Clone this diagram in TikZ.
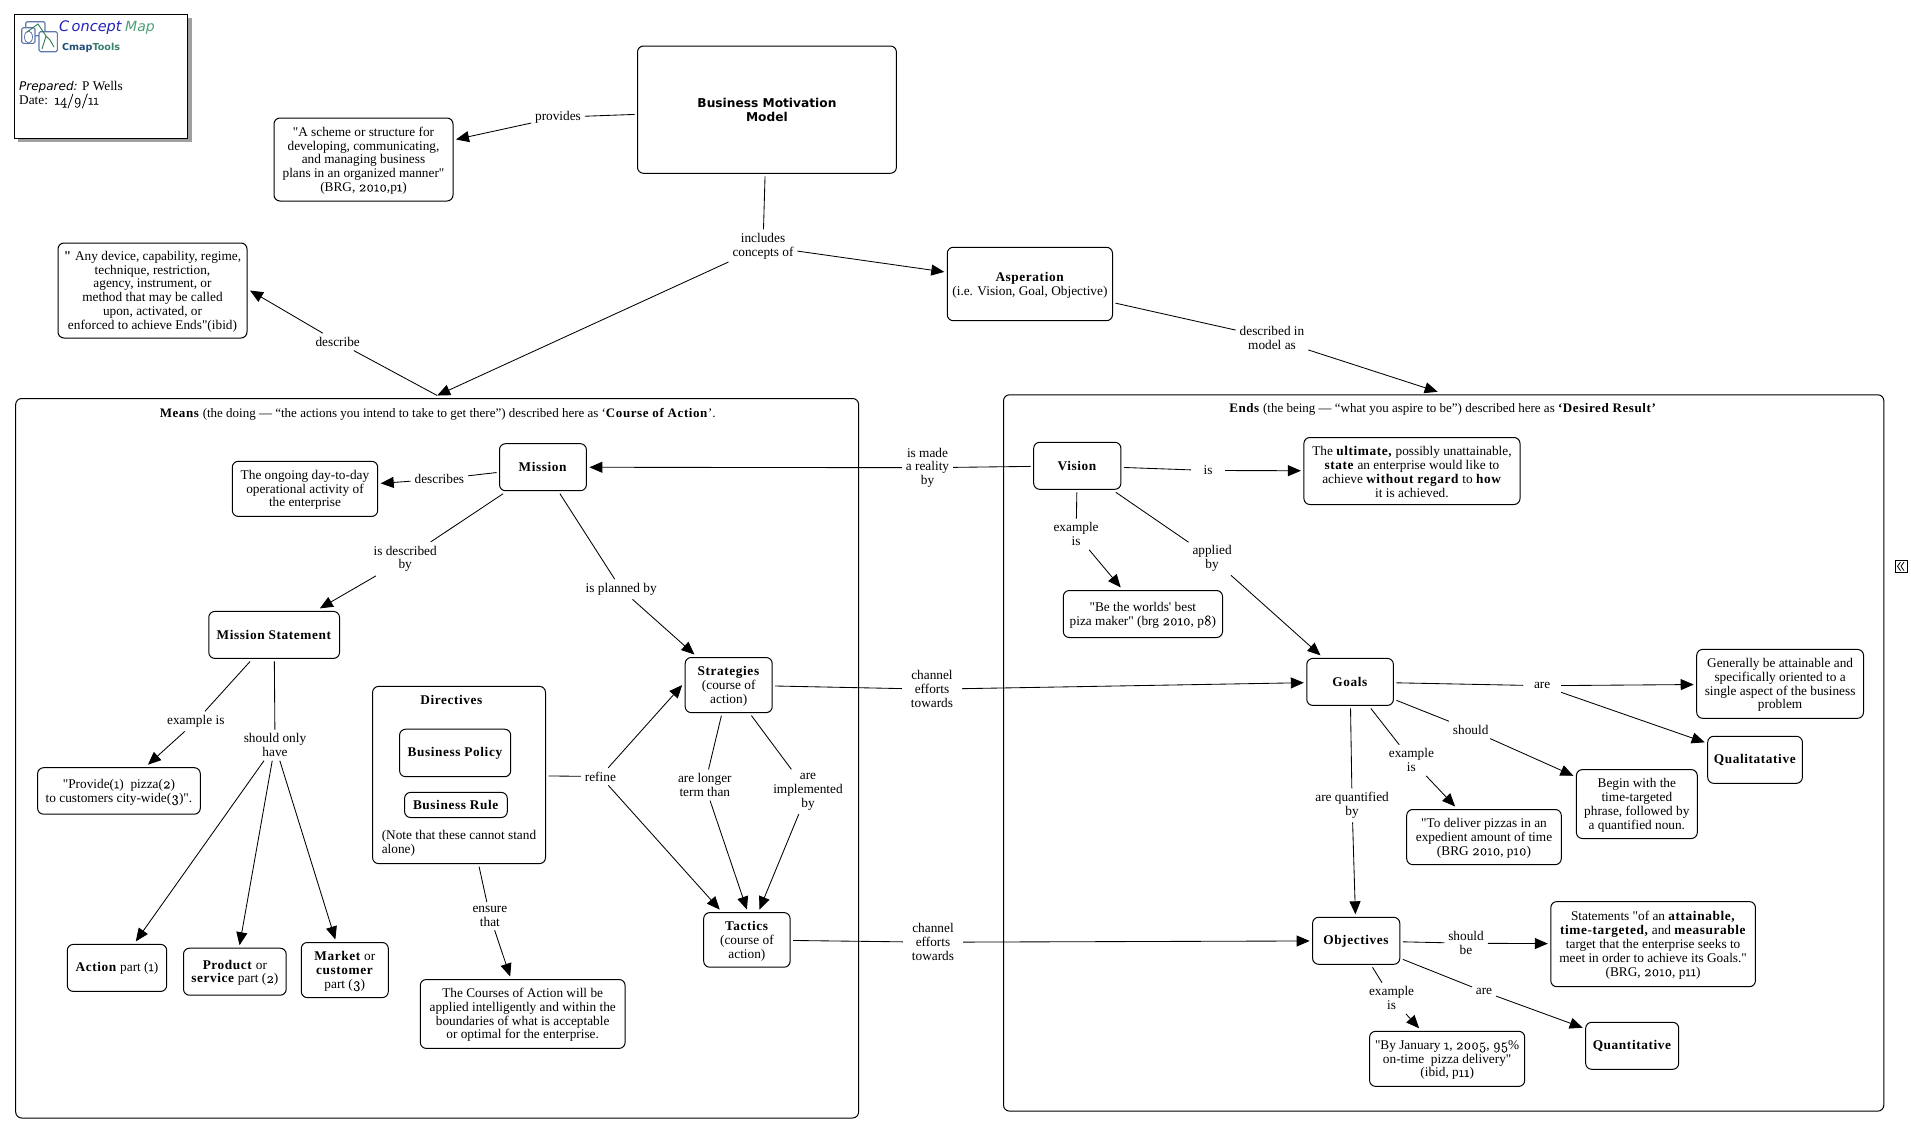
\documentclass[tikz,border=0pt]{standalone}
\usepackage{fontspec}
\usetikzlibrary{arrows.meta}
\setmainfont[Ligatures=TeXOff,BoldFeatures={LetterSpace=4.5}]{Liberation Serif}
\newfontfamily\dejasans{DejaVu Sans}
\newfontfamily\osf[Numbers=OldStyle,Scale=1.1,FakeBold=0.4]{Latin Modern Roman}
\newcommand\os[1]{{\osf #1}}
\newcommand\bmmf[1]{{\dejasans\bfseries\fontsize{12.2}{14.5}\selectfont #1}}
\newcommand\tl{\rule{0pt}{11.5pt}}
\definecolor{cmblue}{HTML}{2222BB}
\definecolor{cmgreen}{HTML}{4F9F75}
\definecolor{cmdark}{HTML}{1F4E79}
\definecolor{cmteal}{HTML}{3A7F6F}
\definecolor{cmframe}{HTML}{5F78AA}
\definecolor{cmline}{HTML}{2E7D4F}
\tikzset{
  base/.style={font=\fontsize{13.3}{13.8}\selectfont},
  box/.style={base,draw=black,line width=1pt,rounded corners=6pt,fill=white,align=center,inner sep=0pt,outer sep=3pt},
  lab/.style={base,align=center,inner sep=1pt,outer sep=3pt,yshift=-1.2pt},
  link/.style={draw=black,line width=0.85pt},
  arr/.style={link,-{Triangle[length=13pt,width=11pt]}},
  plain/.style={base,align=left,inner sep=0pt,anchor=west},
  titletext/.style={font=\fontsize{13}{13.8}\selectfont,inner sep=0pt}
}
\newcommand\cboxs[6]{%
  \pgfmathsetmacro\cxx{(#2+#4)/2}\pgfmathsetmacro\cyy{(#3+#5)/2}%
  \pgfmathsetmacro\cww{#4-#2}\pgfmathsetmacro\chh{#5-#3}%
  \node[box,minimum width=\cww pt,minimum height=\chh pt] (#1) at (\cxx,\cyy) {#6};%
}
\newcommand\cbox[6]{\cboxs{#1}{#2}{#3}{#4}{#5}{\tl #6}}
\begin{document}
\begin{tikzpicture}[x=1pt,y=-1pt]
\useasboundingbox (0,0) rectangle (1911,1135);
% legend
\fill[gray!75] (18.3,18.3) rectangle (191.7,141.7);
\node[draw=black,line width=1pt,fill=white,minimum width=173.4pt,minimum height=124pt,inner sep=0pt] (legend) at (101,76.3) {};
\draw[cmframe,line width=1.1pt,rounded corners=1.5pt] (25.7,21.7) rectangle (45,35.7);
\draw[cmframe,line width=1.1pt,rounded corners=1.5pt,fill=white] (21.7,27.7) rectangle (35,43.3);
\draw[cmframe,line width=1.1pt,rounded corners=1.5pt,fill=white] (39,31.7) rectangle (57.3,51.7);
\draw[cmframe,line width=.8pt] (28.5,37) ellipse (4pt and 6pt);
\draw[cmline,line width=.9pt] (27,32) -- (38,24) -- (46,36) -- (42,49) (46,36) -- (50,40) -- (54,47);
\node[plain,font=\dejasans\itshape\fontsize{14.5}{16}\selectfont,text=cmblue] (lconcept) at (59,28) {C\,oncept};
\node[plain,font=\dejasans\itshape\fontsize{14}{16}\selectfont,text=cmgreen] (lmap) at (125,28) {Map};
\node[plain,font=\dejasans\bfseries\fontsize{9.6}{12}\selectfont] (ltools) at (62,47.5) {\textcolor{cmdark}{Cmap}\textcolor{cmteal}{Tools}};
\node[plain] (lprep) at (19,87.5) {{\dejasans\itshape\fontsize{12}{13}\selectfont Prepared:} P Wells};
\node[plain] (ldate) at (19,101) {Date:\ \ \os{14/9/11}};
% big boxes
\cboxs{means}{15.7}{398.5}{858.6}{1118}{}
\cboxs{ends}{1003.5}{394.8}{1883.8}{1111.1}{}
\node[titletext] (meanst) at (437.7,414) {\textbf{Means} (the doing — “the actions you intend to take to get there”) described here as ‘\textbf{Course of Action}’.};
\node[titletext] (endst) at (1442.9,409.5) {\textbf{Ends} (the being — “what you aspire to be”) described here as \textbf{‘Desired Result’}};
% top
\cboxs{bmm}{637.5}{46}{896.4}{173.3}{\bmmf{Business Motivation}\\\bmmf{Model}}
\cbox{scheme}{274}{118}{453}{201}{"A scheme or structure for\\developing, communicating,\\and managing business\\plans in an organized manner"\\(BRG, \os{2010},p\os{1})}
\cbox{device}{58}{243}{247}{338}{\textbf{"} Any device, capability, regime,\\technique, restriction,\\agency, instrument, or\\method that may be called\\upon, activated, or\\enforced to achieve Ends"(ibid)}
\cbox{asp}{947.3}{247.3}{1112.5}{320.7}{\textbf{Asperation}\\(i.e. Vision, Goal, Objective)}
% means
\cboxs{mission}{499.5}{443.7}{586.4}{490.7}{\textbf{Mission}}
\cbox{ongoing}{232.3}{461.3}{377.7}{516.4}{The ongoing day-to-day\\operational activity of\\the enterprise}
\cboxs{mstate}{208.8}{611.4}{339.5}{658.4}{\textbf{Mission Statement}}
\cbox{provide}{37.6}{767.7}{200.3}{814.2}{"Provide(\os{1})\ \ pizza(\os{2})\\to customers city-wide(\os{3})".}
\cboxs{action}{67.3}{944.4}{166.7}{991.4}{\textbf{Action} part (\os{1})}
\cbox{product}{183.5}{948.2}{286.2}{995.2}{\textbf{Product} or\\\textbf{service} part (\os{2})}
\cbox{market}{301.3}{942.5}{388.3}{997.6}{\textbf{Market} or\\\textbf{customer}\\part (\os{3})}
\cboxs{direct}{372.6}{686.4}{545.5}{863.6}{}
\node[base,inner sep=0pt] (directt) at (451.7,699.7) {\textbf{Directives}};
\cboxs{policy}{399.6}{729.2}{510.7}{776.7}{\textbf{Business Policy}}
\cboxs{rule}{404.6}{792.4}{507.3}{817.5}{\textbf{Business Rule}}
\node[plain,anchor=north west] (note) at (381.6,830.5) {(Note that these cannot stand\\alone)};
\cbox{strat}{685.2}{657.5}{772.2}{712.6}{\textbf{Strategies}\\(course of\\action)}
\cbox{tactics}{703.7}{912.6}{790.1}{967.2}{\textbf{Tactics}\\(course of\\action)}
\cbox{courses}{420.3}{979.5}{625.1}{1048.4}{The Courses of Action will be\\applied intelligently and within the\\boundaries of what is acceptable\\or optimal for the enterprise.}
% ends
\cboxs{vision}{1033.7}{442.3}{1120.9}{489.3}{\textbf{Vision}}
\cbox{ultimate}{1303.9}{437.5}{1520}{504.5}{The \textbf{ultimate,} possibly unattainable,\\\textbf{state} an enterprise would like to\\achieve \textbf{without regard} to \textbf{how}\\it is achieved.}
\cbox{worlds}{1063.3}{590.5}{1222.5}{637.5}{"Be the worlds' best\\piza maker" (brg \os{2010}, p\os{8})}
\cboxs{goals}{1306.8}{658.4}{1393.4}{705.4}{\textbf{Goals}}
\cbox{general}{1696.7}{649.4}{1863.5}{718.3}{Generally be attainable and\\specifically oriented to a\\single aspect of the business\\problem}
\cboxs{qual}{1707.7}{736.3}{1802.4}{783.3}{\textbf{Qualitatative}}
\cbox{begin}{1576.4}{769.6}{1697.3}{838.5}{Begin with the\\time-targeted\\phrase, followed by\\a quantified noun.}
\cbox{deliver}{1406.7}{809.5}{1561.3}{864.6}{"To deliver pizzas in an\\expedient amount of time\\(BRG \os{2010}, p\os{10})}
\cboxs{object}{1312.6}{917.3}{1399.8}{964.3}{\textbf{Objectives}}
\cbox{statem}{1550.8}{901.6}{1755.4}{986.7}{Statements "of an \textbf{attainable,}\\\textbf{time-targeted,} and \textbf{measurable}\\target that the enterprise seeks to\\meet in order to achieve its Goals."\\(BRG, \os{2010}, p\os{11})}
\cboxs{quant}{1585.7}{1022.3}{1678.7}{1069.3}{\textbf{Quantitative}}
\cbox{january}{1369.6}{1031.3}{1524.7}{1086.4}{"By January \os{1}, \os{2005}, \os{95}\%\\on-time\ \ pizza delivery"\\(ibid, p\os{11})}
% labels
\node[lab] (lprov) at (558,116) {provides};
\node[lab] (linc) at (763,245) {includes\\concepts of};
\node[lab] (ldesc) at (337.7,340.7) {describe};
\node[lab] (ldmod) at (1272,337) {described in\\model as};
\node[lab] (ldbs) at (439.4,477.9) {describes};
\node[lab] (lisd) at (405.2,557.7) {is described\\by};
\node[lab] (lisp) at (621.2,588.1) {is planned by};
\node[lab] (lex1) at (195.8,720.2) {example is};
\node[lab] (lsho) at (275,743.9) {should only\\have};
\node[lab] (lref) at (600.4,775.3) {refine};
\node[lab] (llon) at (704.8,783.8) {are longer\\term than};
\node[lab] (limp) at (808,790.5) {are\\implemented\\by};
\node[lab] (lens) at (489.9,914.9) {ensure\\that};
\node[lab] (lmade) at (927.5,466.5) {is made\\a reality\\by};
\node[lab,inner xsep=6pt] (lch1) at (932,688) {channel\\efforts\\towards};
\node[lab,inner xsep=6pt] (lch2) at (933,941) {channel\\efforts\\towards};
\node[lab,minimum width=28pt] (lis) at (1208,469.3) {is};
\node[lab] (lex2) at (1076.1,533) {example\\is};
\node[lab] (lapp) at (1212.1,557.2) {applied\\by};
\node[lab,minimum width=32pt] (lare1) at (1542.1,684.5) {are};
\node[lab] (lsh1) at (1470.7,728.7) {should};
\node[lab] (lex3) at (1411.4,759.1) {example\\is};
\node[lab] (lqua) at (1352.1,804.2) {are quantified\\by};
\node[lab] (lsh2) at (1466,942) {should\\be};
\node[lab] (lare2) at (1484,990.5) {are};
\node[lab] (lex4) at (1391.6,997.1) {example\\is};
% connectors
\draw[link] (bmm) -- (lprov); \draw[arr] (lprov) -- (scheme);
\draw[link] (bmm) -- (linc); \draw[arr] (linc) -- (asp); \draw[arr] (linc) -- (means.north);
\draw[link] (means.north) -- (ldesc); \draw[arr] (ldesc) -- (device.east);
\draw[link] (asp) -- (ldmod); \draw[arr] (ldmod) -- ([xshift=-6pt]ends.north);
\draw[link] (mission) -- (ldbs); \draw[arr] (ldbs) -- (ongoing);
\draw[link] (mission) -- (lisd); \draw[arr] (lisd) -- (mstate);
\draw[link] (mission) -- (lisp); \draw[arr] (lisp) -- (strat);
\draw[link] (mstate) -- (lex1); \draw[arr] (lex1) -- (provide);
\draw[link] (mstate) -- (lsho); \draw[arr] (lsho) -- (action); \draw[arr] (lsho) -- (product); \draw[arr] (lsho) -- (market);
\draw[link] (direct) -- (lref); \draw[arr] (lref) -- (strat.west); \draw[arr] (lref) -- (tactics);
\draw[link] (strat) -- (llon); \draw[arr] (llon) -- (tactics.north);
\draw[link] (strat) -- (limp); \draw[arr] (limp) -- (tactics);
\draw[link] (direct) -- (lens); \draw[arr] (lens) -- (courses);
\draw[link] (vision) -- (lmade); \draw[arr] (lmade) -- (mission);
\draw[link] (strat) -- (lch1); \draw[arr] (lch1) -- (goals);
\draw[link] (tactics) -- (lch2); \draw[arr] (lch2) -- (object);
\draw[link] (vision) -- (lis); \draw[arr] (lis) -- (ultimate);
\draw[link] (vision) -- (lex2); \draw[arr] (lex2) -- (worlds);
\draw[link] (vision) -- (lapp); \draw[arr] (lapp) -- (goals);
\draw[link] (goals) -- (lare1); \draw[arr] (lare1) -- (general); \draw[arr] (lare1) -- (qual);
\draw[link] (goals) -- (lsh1); \draw[arr] (lsh1) -- (begin);
\draw[link] (goals) -- (lex3); \draw[arr] (lex3) -- (deliver);
\draw[link] (goals) -- (lqua); \draw[arr] (lqua) -- (object);
\draw[link] (object) -- (lsh2); \draw[arr] (lsh2) -- (statem);
\draw[link] (object) -- (lare2); \draw[arr] (lare2) -- (quant);
\draw[link] (object) -- (lex4); \draw[arr] (lex4) -- (january);
% side widget
\node[draw=black,line width=.9pt,minimum width=12.5pt,minimum height=12.5pt,inner sep=0pt] (side) at (1901.3,566.3) {};
\draw[line width=.8pt] (1900.5,562) -- (1897.5,566.3) -- (1900.5,570.6) (1904,562) -- (1901,566.3) -- (1904,570.6);
\end{tikzpicture}
\end{document}
